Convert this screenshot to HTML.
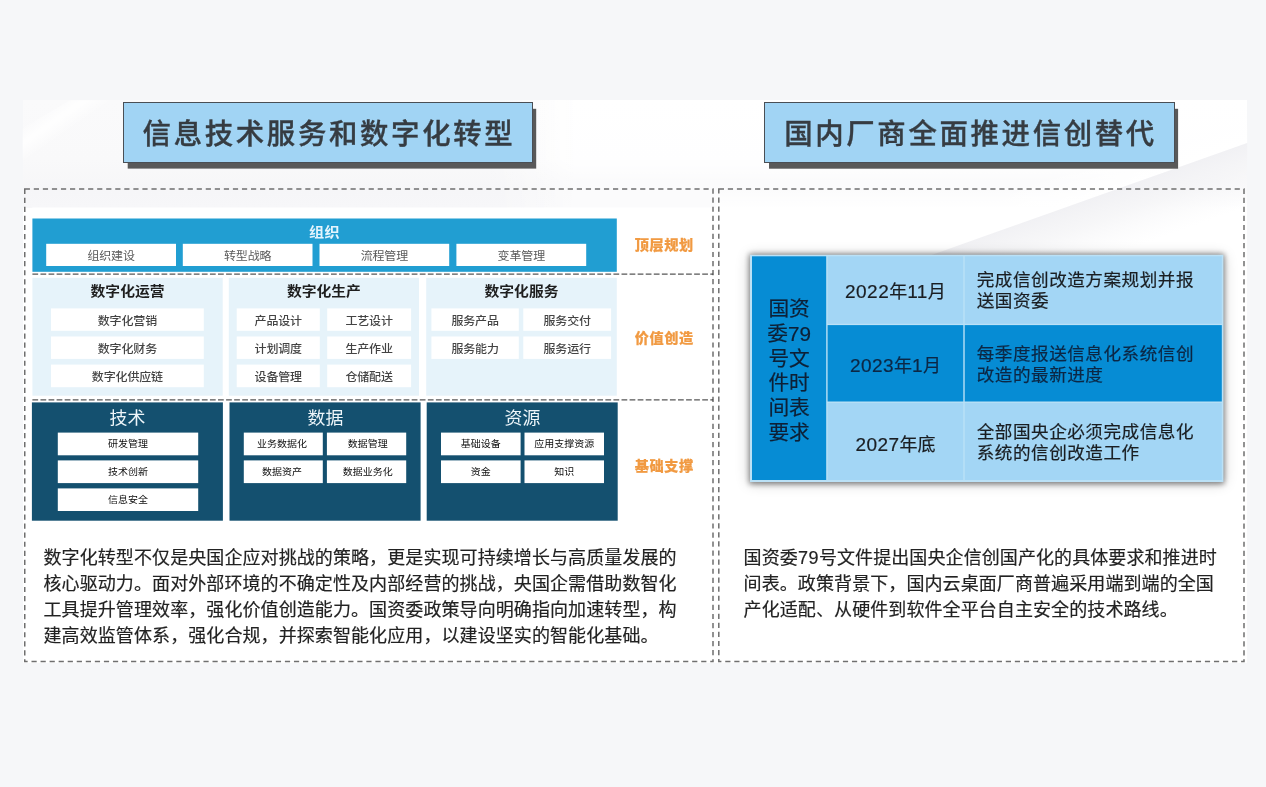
<!DOCTYPE html>
<html lang="zh-CN"><head><meta charset="utf-8">
<title>信息技术服务和数字化转型</title>
<style>
html,body{margin:0;padding:0;}
body{width:1266px;height:787px;position:relative;overflow:hidden;background:#f6f7f9;
 font-family:"Liberation Sans", "Noto Sans CJK SC", sans-serif;color:#222;}
div{position:absolute;box-sizing:border-box;}
svg{position:absolute;left:0;top:0;}
.layer{left:0;top:0;width:1266px;height:787px;}
.c{display:flex;align-items:center;justify-content:center;white-space:nowrap;}
.slide{background:#fff;}
.title{background:#a1d4f4;border:1px solid #4a4f55;
 font-size:28.4px;font-weight:500;-webkit-text-stroke:0.35px #363c42;letter-spacing:2.67px;color:#363c42;padding-left:2.67px;padding-bottom:1.6px;}
.wb{font-size:12px;letter-spacing:-0.15px;color:#444;font-weight:500;}
.wd{font-size:10px;color:#0c0c0c;}
.s{display:inline-block;}
.wb .s{transform:translateY(0.8px) scaleY(0.925);}
.h2 .s{transform:scaleY(0.92);}
.wd .s{transform:translateY(-0.5px) scaleY(0.93);}
.h3 .s{transform:scaleX(1.03);}
.h2{font-size:14.8px;font-weight:700;color:#1e1e1e;}
.h3{font-size:17.4px;color:#eef6fa;}
.or{font-size:14.2px;font-weight:900;color:#f19a42;-webkit-text-stroke:0.15px #f19a42;letter-spacing:0.55px;padding-left:0.55px;}
.para{font-size:18px;line-height:26px;color:#222;-webkit-text-stroke:0.18px #222;letter-spacing:0.09px;word-break:break-all;line-break:anywhere;text-align:left;}
.tc{font-size:18px;line-height:21px;color:#1c1c1c;-webkit-text-stroke:0.2px currentColor;}
.td{font-size:17.6px;letter-spacing:0.52px;}
.dg{filter:blur(0.5px);}
.ga{filter:blur(0.2px);}

</style></head><body>
<div class="slide" style="left:22.70px;top:100.20px;width:1224.40px;height:562.40px;"></div>
<div style="left:22.70px;top:100.20px;width:1224.40px;height:107.80px;background:linear-gradient(180deg,#fafafb 0%,#f9f9fa 55%,#f6f6f8 85%,#f7f7f9 100%);"></div>
<div style="left:22.70px;top:100.20px;width:1224.40px;height:107.80px;background:linear-gradient(90deg,rgba(255,255,255,0) 0%,rgba(255,255,255,0) 38%,rgba(255,255,255,.85) 45%,rgba(255,255,255,.85) 100%);-webkit-mask-image:linear-gradient(180deg,#000 0%,#000 55%,rgba(0,0,0,.6) 75%,rgba(0,0,0,.6) 100%);mask-image:linear-gradient(180deg,#000 0%,#000 55%,rgba(0,0,0,.6) 75%,rgba(0,0,0,.6) 100%);"></div>
<div style="left:716.00px;top:189.00px;width:531.10px;height:19.00px;background:linear-gradient(180deg,rgba(255,255,255,0) 0%,#fff 100%);"></div>
<svg width="1266" height="787" viewBox="0 0 1266 787"><defs><linearGradient id="gd" gradientUnits="userSpaceOnUse" x1="1120" y1="188" x2="1140" y2="245"><stop offset="0" stop-color="#f1f1f4" stop-opacity="1"/><stop offset="0.4" stop-color="#f3f3f5" stop-opacity="0.7"/><stop offset="1" stop-color="#f7f7f9" stop-opacity="0"/></linearGradient><linearGradient id="gw" gradientUnits="userSpaceOnUse" x1="1140" y1="181" x2="1128" y2="147"><stop offset="0" stop-color="#ffffff" stop-opacity="1"/><stop offset="1" stop-color="#ffffff" stop-opacity="0"/></linearGradient><linearGradient id="gs" gradientUnits="userSpaceOnUse" x1="40" y1="112" x2="58" y2="138"><stop offset="0" stop-color="#ffffff" stop-opacity="0"/><stop offset="0.5" stop-color="#ffffff" stop-opacity="1"/><stop offset="1" stop-color="#ffffff" stop-opacity="0"/></linearGradient></defs><polygon points="1247.1,100.2 1247.1,143 990,234 900,215 900,100.2" fill="url(#gw)"/><polygon points="1247.1,143 1247.1,330 900,330 900,266.2" fill="url(#gd)"/><polygon points="22.7,165 22.7,128 70,100.2 110,100.2" fill="url(#gs)" opacity="0.9"/></svg>
<div class="layer ga">
<svg width="1266" height="787" viewBox="0 0 1266 787"><rect x="127.70" y="108.80" width="408.50" height="59.80" fill="#595959"/><rect x="769.00" y="108.80" width="409.10" height="59.90" fill="#595959"/></svg>
<div class="title c" style="left:122.60px;top:102.20px;width:410.10px;height:60.50px;">信息技术服务和数字化转型</div>
<div class="title c" style="left:763.80px;top:102.20px;width:410.80px;height:60.50px;">国内厂商全面推进信创替代</div>
</div>
<div class="layer dg">
<svg width="1266" height="787" viewBox="0 0 1266 787"><rect x="32.30" y="207.50" width="680.70" height="321.10" fill="#ffffff"/><rect x="32.40" y="218.50" width="584.40" height="53.30" fill="#219ed2"/><rect x="46.20" y="243.80" width="129.80" height="22.20" fill="#ffffff"/><rect x="182.80" y="243.80" width="129.70" height="22.20" fill="#ffffff"/><rect x="319.50" y="243.80" width="129.70" height="22.20" fill="#ffffff"/><rect x="456.40" y="243.80" width="129.80" height="22.20" fill="#ffffff"/><rect x="32.40" y="277.80" width="190.30" height="117.90" fill="#e6f3fa"/><rect x="228.80" y="277.80" width="190.20" height="117.90" fill="#e6f3fa"/><rect x="426.20" y="277.80" width="190.60" height="117.90" fill="#e6f3fa"/><rect x="51.00" y="308.40" width="152.80" height="22.40" fill="#ffffff"/><rect x="51.00" y="336.50" width="152.80" height="22.40" fill="#ffffff"/><rect x="51.00" y="364.60" width="152.80" height="22.60" fill="#ffffff"/><rect x="236.70" y="308.40" width="83.10" height="22.40" fill="#ffffff"/><rect x="327.20" y="308.40" width="83.90" height="22.40" fill="#ffffff"/><rect x="236.70" y="336.50" width="83.10" height="22.40" fill="#ffffff"/><rect x="327.20" y="336.50" width="83.90" height="22.40" fill="#ffffff"/><rect x="236.70" y="364.60" width="83.10" height="22.60" fill="#ffffff"/><rect x="327.20" y="364.60" width="83.90" height="22.60" fill="#ffffff"/><rect x="431.40" y="308.40" width="87.40" height="22.40" fill="#ffffff"/><rect x="523.30" y="308.40" width="87.80" height="22.40" fill="#ffffff"/><rect x="431.40" y="336.50" width="87.40" height="22.40" fill="#ffffff"/><rect x="523.30" y="336.50" width="87.80" height="22.40" fill="#ffffff"/><rect x="31.90" y="402.40" width="191.00" height="118.30" fill="#14506f"/><rect x="229.50" y="402.40" width="191.10" height="118.30" fill="#14506f"/><rect x="426.70" y="402.40" width="191.00" height="118.30" fill="#14506f"/><rect x="57.80" y="432.60" width="140.40" height="22.70" fill="#ffffff"/><rect x="57.80" y="460.40" width="140.40" height="22.70" fill="#ffffff"/><rect x="57.80" y="488.40" width="140.40" height="22.60" fill="#ffffff"/><rect x="243.80" y="432.60" width="79.00" height="22.70" fill="#ffffff"/><rect x="326.90" y="432.60" width="79.30" height="22.70" fill="#ffffff"/><rect x="243.80" y="460.40" width="79.00" height="22.70" fill="#ffffff"/><rect x="326.90" y="460.40" width="79.30" height="22.70" fill="#ffffff"/><rect x="441.00" y="432.60" width="79.60" height="22.70" fill="#ffffff"/><rect x="524.50" y="432.60" width="79.50" height="22.70" fill="#ffffff"/><rect x="441.00" y="460.40" width="79.60" height="22.70" fill="#ffffff"/><rect x="524.50" y="460.40" width="79.50" height="22.70" fill="#ffffff"/></svg>
<div class="c" style="left:32.40px;top:222.60px;width:584.40px;height:18.00px;font-size:14.3px;font-weight:700;color:#e4f5fd;letter-spacing:0.3px;"><span class="s" style="transform:scale(1.06,0.92)">组织</span></div>
<div class="wb c" style="left:46.20px;top:243.70px;width:129.80px;height:22.50px;color:#5a5a5a;font-weight:400;"><span class="s">组织建设</span></div>
<div class="wb c" style="left:182.80px;top:243.70px;width:129.70px;height:22.50px;color:#5a5a5a;font-weight:400;"><span class="s">转型战略</span></div>
<div class="wb c" style="left:319.50px;top:243.70px;width:129.70px;height:22.50px;color:#5a5a5a;font-weight:400;"><span class="s">流程管理</span></div>
<div class="wb c" style="left:456.40px;top:243.70px;width:129.80px;height:22.50px;color:#5a5a5a;font-weight:400;"><span class="s">变革管理</span></div>
<div class="h2 c" style="left:32.40px;top:281.20px;width:190.30px;height:19.00px;"><span class="s">数字化运营</span></div>
<div class="h2 c" style="left:228.80px;top:281.20px;width:190.20px;height:19.00px;"><span class="s">数字化生产</span></div>
<div class="h2 c" style="left:426.20px;top:281.20px;width:190.60px;height:19.00px;"><span class="s">数字化服务</span></div>
<div class="wb c" style="left:51.00px;top:308.40px;width:152.80px;height:22.40px;"><span class="s">数字化营销</span></div>
<div class="wb c" style="left:51.00px;top:336.50px;width:152.80px;height:22.40px;"><span class="s">数字化财务</span></div>
<div class="wb c" style="left:51.00px;top:364.60px;width:152.80px;height:22.60px;"><span class="s">数字化供应链</span></div>
<div class="wb c" style="left:236.70px;top:308.40px;width:83.10px;height:22.40px;"><span class="s">产品设计</span></div>
<div class="wb c" style="left:327.20px;top:308.40px;width:83.90px;height:22.40px;"><span class="s">工艺设计</span></div>
<div class="wb c" style="left:236.70px;top:336.50px;width:83.10px;height:22.40px;"><span class="s">计划调度</span></div>
<div class="wb c" style="left:327.20px;top:336.50px;width:83.90px;height:22.40px;"><span class="s">生产作业</span></div>
<div class="wb c" style="left:236.70px;top:364.60px;width:83.10px;height:22.60px;"><span class="s">设备管理</span></div>
<div class="wb c" style="left:327.20px;top:364.60px;width:83.90px;height:22.60px;"><span class="s">仓储配送</span></div>
<div class="wb c" style="left:431.40px;top:308.40px;width:87.40px;height:22.40px;"><span class="s">服务产品</span></div>
<div class="wb c" style="left:523.30px;top:308.40px;width:87.80px;height:22.40px;"><span class="s">服务交付</span></div>
<div class="wb c" style="left:431.40px;top:336.50px;width:87.40px;height:22.40px;"><span class="s">服务能力</span></div>
<div class="wb c" style="left:523.30px;top:336.50px;width:87.80px;height:22.40px;"><span class="s">服务运行</span></div>
<div class="h3 c" style="left:31.90px;top:405.30px;width:191.00px;height:22.50px;"><span class="s">技术</span></div>
<div class="h3 c" style="left:229.50px;top:405.30px;width:191.10px;height:22.50px;"><span class="s">数据</span></div>
<div class="h3 c" style="left:426.70px;top:405.30px;width:191.00px;height:22.50px;"><span class="s">资源</span></div>
<div class="wd c" style="left:57.80px;top:432.60px;width:140.40px;height:22.70px;"><span class="s">研发管理</span></div>
<div class="wd c" style="left:57.80px;top:460.40px;width:140.40px;height:22.70px;"><span class="s">技术创新</span></div>
<div class="wd c" style="left:57.80px;top:488.40px;width:140.40px;height:22.60px;"><span class="s">信息安全</span></div>
<div class="wd c" style="left:243.80px;top:432.60px;width:79.00px;height:22.70px;padding-right:2.7px;"><span class="s">业务数据化</span></div>
<div class="wd c" style="left:326.90px;top:432.60px;width:79.30px;height:22.70px;padding-left:2.6px;"><span class="s">数据管理</span></div>
<div class="wd c" style="left:243.80px;top:460.40px;width:79.00px;height:22.70px;padding-right:2.7px;"><span class="s">数据资产</span></div>
<div class="wd c" style="left:326.90px;top:460.40px;width:79.30px;height:22.70px;padding-left:2.6px;"><span class="s">数据业务化</span></div>
<div class="wd c" style="left:441.00px;top:432.60px;width:79.60px;height:22.70px;"><span class="s">基础设备</span></div>
<div class="wd c" style="left:524.50px;top:432.60px;width:79.50px;height:22.70px;"><span class="s">应用支撑资源</span></div>
<div class="wd c" style="left:441.00px;top:460.40px;width:79.60px;height:22.70px;"><span class="s">资金</span></div>
<div class="wd c" style="left:524.50px;top:460.40px;width:79.50px;height:22.70px;"><span class="s">知识</span></div>
<div class="or c" style="left:624.00px;top:233.40px;width:80.00px;height:22.00px;"><span class="s">顶层规划</span></div>
<div class="or c" style="left:624.00px;top:325.90px;width:80.00px;height:22.00px;"><span class="s">价值创造</span></div>
<div class="or c" style="left:624.00px;top:454.40px;width:80.00px;height:22.00px;"><span class="s">基础支撑</span></div>
</div>
<div class="layer ga">
<div class="para" style="left:43.50px;top:544.60px;width:641.00px;height:105.40px;">数字化转型不仅是央国企应对挑战的策略，更是实现可持续增长与高质量发展的核心驱动力。面对外部环境的不确定性及内部经营的挑战，央国企需借助数智化工具提升管理效率，强化价值创造能力。国资委政策导向明确指向加速转型，构建高效监管体系，强化合规，并探索智能化应用，以建设坚实的智能化基础。</div>
<div class="para" style="left:743.60px;top:544.60px;width:481.00px;height:105.40px;">国资委<span style="letter-spacing:0.5px">79</span>号文件提出国央企信创国产化的具体要求和推进时间表。政策背景下，国内云桌面厂商普遍采用端到端的全国产化适配、从硬件到软件全平台自主安全的技术路线。</div>
<div style="left:750.30px;top:254.80px;width:473.10px;height:227.10px;background:#bfe2f7;box-shadow:0.3px 0.5px 5.5px 1.4px rgba(0,0,0,0.46),0 0.5px 13px 1px rgba(0,0,0,0.2);"></div>
<svg width="1266" height="787" viewBox="0 0 1266 787"><rect x="750.30" y="254.80" width="473.10" height="227.10" fill="#bbe1f6"/><rect x="752.00" y="256.30" width="74.20" height="223.70" fill="#068cd4"/><rect x="827.60" y="256.30" width="135.70" height="67.50" fill="#a3d6f5"/><rect x="964.70" y="256.30" width="257.10" height="67.50" fill="#a3d6f5"/><rect x="827.60" y="325.10" width="135.70" height="76.40" fill="#068cd4"/><rect x="964.70" y="325.10" width="257.10" height="76.40" fill="#068cd4"/><rect x="827.60" y="402.80" width="135.70" height="77.20" fill="#a3d6f5"/><rect x="964.70" y="402.80" width="257.10" height="77.20" fill="#a3d6f5"/></svg>
<div style="left:752.00px;top:296.70px;width:74.20px;height:149.40px;font-size:20.7px;line-height:24.9px;text-align:center;color:#0e2036;-webkit-text-stroke:0.2px #0e2036;padding:0 13.5px;word-break:break-all;line-break:anywhere;">国资委79号文件时间表要求</div>
<div class="c tc" style="left:827.60px;top:256.30px;width:135.70px;height:67.50px;color:#1a1e22;padding-top:5.2px;"><span style="font-size:19px;letter-spacing:0.45px;line-height:21px;position:relative;top:-1.1px">2022</span>年<span style="font-size:19px;letter-spacing:0.45px;line-height:21px;position:relative;top:-1.1px">11</span>月</div>
<div class="tc td" style="left:964.70px;top:256.30px;width:257.10px;height:67.50px;color:#1a1e22;display:flex;align-items:center;padding-left:12px;padding-right:18px;padding-top:1.6px;word-break:break-all;line-break:anywhere;"><span>完成信创改造方案规划并报送国资委</span></div>
<div class="c tc" style="left:827.60px;top:325.10px;width:135.70px;height:76.40px;color:#0c2744;padding-top:7.2px;"><span style="font-size:19px;letter-spacing:0.45px;line-height:21px;position:relative;top:-1.1px">2023</span>年<span style="font-size:19px;letter-spacing:0.45px;line-height:21px;position:relative;top:-1.1px">1</span>月</div>
<div class="tc td" style="left:964.70px;top:325.10px;width:257.10px;height:76.40px;color:#0c2744;display:flex;align-items:center;padding-left:12px;padding-right:18px;padding-top:4.2px;word-break:break-all;line-break:anywhere;"><span>每季度报送信息化系统信创改造的最新进度</span></div>
<div class="c tc" style="left:827.60px;top:402.80px;width:135.70px;height:77.20px;color:#1a1e22;padding-top:7.6px;"><span style="font-size:19px;letter-spacing:0.45px;line-height:21px;position:relative;top:-1.1px">2027</span>年底</div>
<div class="tc td" style="left:964.70px;top:402.80px;width:257.10px;height:77.20px;color:#1a1e22;display:flex;align-items:center;padding-left:12px;padding-right:18px;padding-top:4.2px;word-break:break-all;line-break:anywhere;"><span>全部国央企必须完成信息化系统的信创改造工作</span></div>
</div>
<svg width="1266" height="787" viewBox="0 0 1266 787" fill="none" stroke="#6f6f6f" stroke-width="1.5" stroke-dasharray="5.2 3.85">
<rect x="24.75" y="189" width="688.25" height="472.6"/>
<rect x="718.8" y="189" width="525.2" height="472.6"/>
<path d="M32.4 274.2H713.2M32.4 399.8H713.2" stroke="#3a3a3a" stroke-opacity="0.85" stroke-width="1.2" stroke-dasharray="5.75 2.32"/>
</svg>
</body></html>
